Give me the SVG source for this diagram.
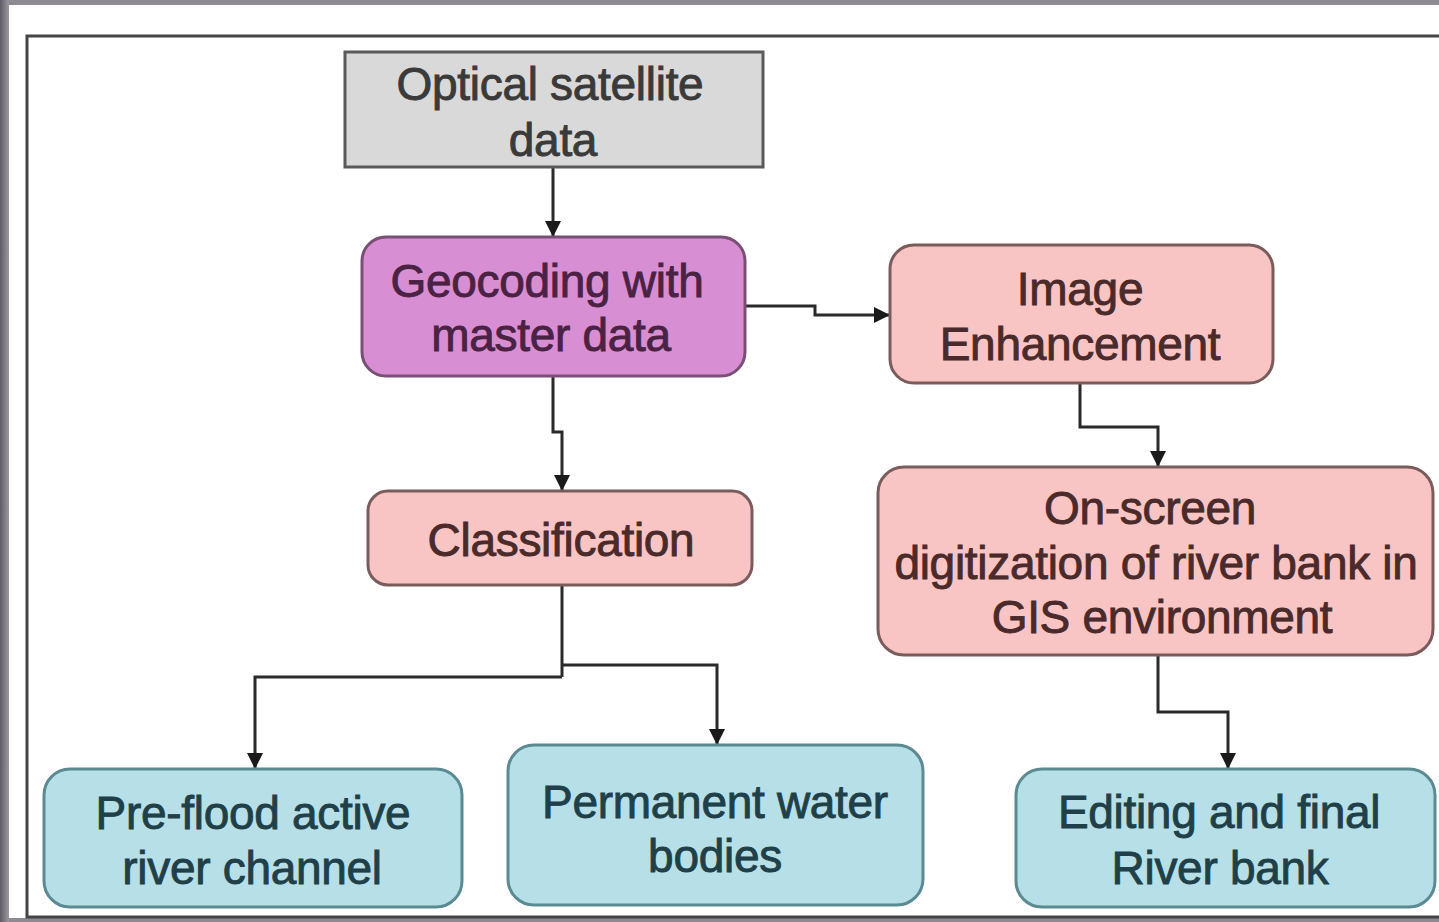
<svg xmlns="http://www.w3.org/2000/svg" width="1439" height="922" viewBox="0 0 1439 922">
<defs>
<linearGradient id="bgL" x1="0" y1="0" x2="1" y2="0">
<stop offset="0" stop-color="#5e5b63"/>
<stop offset="1" stop-color="#9c99a2"/>
</linearGradient>
<marker id="arr" viewBox="0 0 16 18" refX="16" refY="9" markerWidth="16" markerHeight="18" markerUnits="userSpaceOnUse" orient="auto">
<path d="M0,1 L16,9 L0,17 Z" fill="#1a1a1a"/>
</marker>
</defs>
<style>
text{font-family:"Liberation Sans",Arial,sans-serif;font-size:46px;text-anchor:middle;stroke-width:0.9px;letter-spacing:-0.3px}
.gray rect{fill:#d9d9d9;stroke:#5a5a5a;stroke-width:3}
.gray text{fill:#3a3a3a;stroke:#3a3a3a}
.purple rect{fill:#d88ed2;stroke:#7a4f76;stroke-width:3}
.purple text{fill:#4a2244;stroke:#4a2244}
.pink rect{fill:#f8c5c4;stroke:#7a5c5c;stroke-width:3}
.pink text{fill:#4a2a2a;stroke:#4a2a2a}
.blue rect{fill:#b6dfe7;stroke:#5c8a92;stroke-width:3}
.blue text{fill:#1f4048;stroke:#1f4048}
.conn path{fill:none;stroke:#2a2a2a;stroke-width:3;marker-end:url(#arr)}
.conn path.n{marker-end:none}
</style>
<rect x="0" y="0" width="1439" height="922" fill="#8d8a92"/>
<rect x="0" y="0" width="9" height="922" fill="url(#bgL)"/>
<rect x="9" y="5" width="1430" height="913" fill="#ffffff"/>
<rect x="27" y="36" width="1420" height="881" fill="#ffffff" stroke="#444" stroke-width="3"/>

<g class="conn">
<path d="M553,167 V237"/>
<path d="M745,306 H815 V315 H890"/>
<path d="M553,376 V432 H562 V491"/>
<path d="M1080,383 V427 H1158 V467"/>
<path class="n" d="M562,585 V677"/>
<path d="M562,677 H255 V769"/>
<path d="M562,665 H717 V745"/>
<path d="M1158,655 V712 H1228 V769"/>
</g>

<g id="optical" class="gray">
<rect x="345" y="52" width="418" height="115"/>
<text x="550" y="100">Optical satellite</text>
<text x="553" y="156">data</text>
</g>
<g id="geocoding" class="purple">
<rect x="362" y="237" width="383" height="139" rx="24"/>
<text x="547" y="297">Geocoding with</text>
<text x="551" y="351">master data</text>
</g>
<g id="enhancement" class="pink">
<rect x="890" y="245" width="383" height="138" rx="24"/>
<text x="1080" y="305">Image</text>
<text x="1080" y="360">Enhancement</text>
</g>
<g id="classification" class="pink">
<rect x="368" y="491" width="384" height="94" rx="20"/>
<text x="561" y="556">Classification</text>
</g>
<g id="digitization" class="pink">
<rect x="878" y="467" width="555" height="188" rx="26"/>
<text x="1150" y="524">On-screen</text>
<text x="1156" y="579">digitization of river bank in</text>
<text x="1162" y="633">GIS environment</text>
</g>
<g id="preflood" class="blue">
<rect x="44" y="769" width="418" height="138" rx="26"/>
<text x="253" y="829">Pre-flood active</text>
<text x="252" y="884">river channel</text>
</g>
<g id="permanent" class="blue">
<rect x="508" y="745" width="415" height="160" rx="26"/>
<text x="715" y="818">Permanent water</text>
<text x="715" y="872">bodies</text>
</g>
<g id="editing" class="blue">
<rect x="1016" y="769" width="419" height="138" rx="26"/>
<text x="1219" y="828">Editing and final</text>
<text x="1220" y="884">River bank</text>
</g>
</svg>
